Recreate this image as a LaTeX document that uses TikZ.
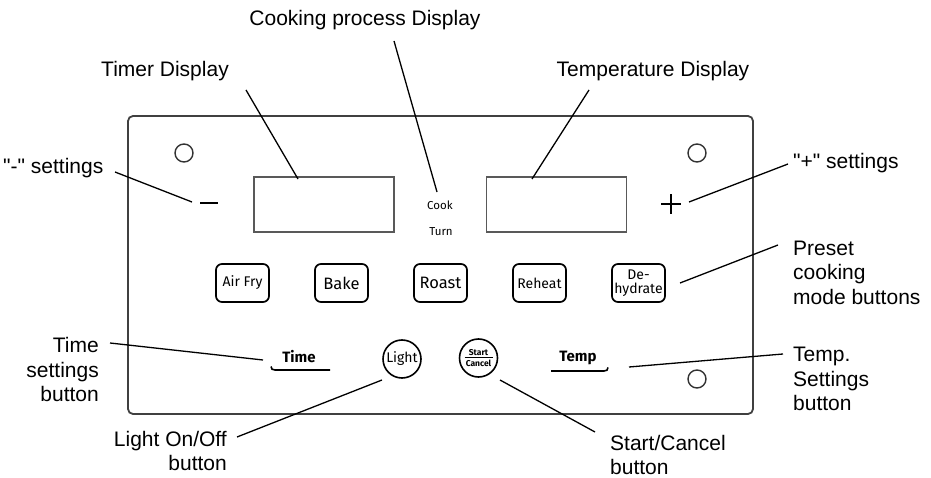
\documentclass[tikz,border=0pt]{standalone}
\usepackage{fontspec}
\setmainfont{Liberation Sans}[Ligatures=TeXOff]
\newfontfamily\btnfont{Fira Sans}
\begin{document}
\begin{tikzpicture}[x=1pt,y=-1pt,
  lbl/.style={inner sep=0pt,font=\fontsize{21}{24.5}\selectfont},
  leader/.style={draw=black,line width=1.3pt},
  panelbox/.style={draw=black!75,line width=1.8pt,rounded corners=5pt,inner sep=0pt},
  hole/.style={draw=black!80,line width=1.4pt,circle,minimum size=18pt,inner sep=0pt},
  disp/.style={draw=black!65,line width=1.4pt,inner sep=0pt,minimum width=140pt,minimum height=55pt},
  btn/.style={draw=black,line width=1.7pt,rounded corners=6pt,inner sep=0pt,minimum width=53pt,minimum height=38pt,align=center},
  rbtn/.style={draw=black,line width=1.6pt,circle,minimum size=38pt,inner sep=0pt},
  small/.style={inner sep=0pt,font=\btnfont\fontsize{11.5}{12}\selectfont}
]
\useasboundingbox (0,0) rectangle (931,478);

% panel
\node[panelbox,minimum width=625pt,minimum height=298pt] (panel) at (440.5,265) {};
\node[hole] (h1) at (184,153) {};
\node[hole] (h2) at (697,153) {};
\node[hole] (h3) at (697,379) {};

% displays
\node[disp] (timer) at (324,204.5) {};
\node[disp] (tempd) at (556.5,204.5) {};
\node[small] (cook) at (440,205) {Cook};
\node[small] (turn) at (441,232) {Turn};

% minus / plus
\node[fill=black,inner sep=0pt,minimum width=18pt,minimum height=2pt] (minus) at (209,203) {};
\node[inner sep=0pt,minimum size=19pt] (plus) at (671,204) {};
\draw[line width=1.8pt] (plus.west) -- (plus.east) (plus.north) -- (plus.south);

% preset buttons
\node[btn,font=\btnfont\fontsize{14}{15}\selectfont] (airfry) at (242.5,283) {Air Fry};
\node[btn,font=\btnfont\fontsize{16.5}{17}\selectfont] (bake) at (341.5,283) {Bake};
\node[btn,font=\btnfont\fontsize{16.5}{17}\selectfont] (roast) at (440.5,283) {Roast};
\node[btn,font=\btnfont\fontsize{14}{15}\selectfont] (reheat) at (539.5,283) {Reheat};
\node[btn,font=\btnfont\fontsize{14}{14.5}\selectfont] (dehyd) at (638.5,283) {De-\\hydrate};

% time / temp
\node[inner sep=0pt,font=\btnfont\bfseries\fontsize{15}{15}\selectfont] (time) at (299,357) {Time};
\draw[line width=1.6pt] (271,366.5) .. controls (271.5,369) and (272,370) .. (275,370) -- (330,370);
\node[inner sep=0pt,font=\btnfont\bfseries\fontsize{15}{15}\selectfont] (temp) at (578,358) {Temp};
\draw[line width=1.6pt] (551,371) -- (604,371) .. controls (607,371) and (607.5,370) .. (608,367.5);

% light / start
\node[rbtn,font=\btnfont\fontsize{14}{14}\selectfont] (light) at (402,359) {Light};
\node[rbtn] (start) at (478.5,358) {};
\node[inner sep=0pt,font=\btnfont\bfseries\fontsize{8.5}{9}\selectfont] (starttxt) at (478.5,352.3) {Start};
\node[inner sep=0pt,font=\btnfont\bfseries\fontsize{8.5}{9}\selectfont] (canceltxt) at (478.5,363.8) {Cancel};
\draw[line width=1pt] (464.5,357.8) -- (492.5,357.8);

% labels
\node[lbl] (Ltimer) at (165,71) {Timer Display};
\node[lbl] (Lcook) at (365,20) {Cooking process Display};
\node[lbl] (Ltemp) at (653,71) {Temperature Display};
\node[lbl,anchor=west] (Lminus) at (3,168) {"-" settings};
\node[lbl,anchor=west] (Lplus) at (793,163) {"+" settings};
\node[lbl,anchor=west,align=left] (Lpreset) at (793,272.5) {Preset\\cooking\\mode buttons};
\node[lbl,anchor=west,align=left] (Ltempset) at (793,379) {Temp.\\Settings\\button};
\node[lbl,anchor=east,align=right] (Ltimeset) at (99,369.5) {Time\\settings\\button};
\node[lbl,anchor=east,align=right] (Llight) at (227,451) {Light On/Off\\button};
\node[lbl,anchor=west,align=left] (Lstart) at (610,455) {Start/Cancel\\button};

% leader end points
\coordinate (a1) at (246,90);  \coordinate (b1) at (298,179);
\coordinate (a2) at (394,41);  \coordinate (b2) at (437,192);
\coordinate (a3) at (589,90);  \coordinate (b3) at (532,179);
\coordinate (a4) at (115,172); \coordinate (b4) at (192,202);
\coordinate (a5) at (788,164); \coordinate (b5) at (689,202);
\coordinate (a6) at (778,245); \coordinate (b6) at (680,283);
\coordinate (a7) at (783,354); \coordinate (b7) at (629,367);
\coordinate (a8) at (110,343); \coordinate (b8) at (263,360);
\coordinate (a9) at (237,437); \coordinate (b9) at (382,380);
\coordinate (a10) at (595,432); \coordinate (b10) at (500,380);

\foreach \i in {1,...,10} {\draw[leader] (a\i) -- (b\i);}
\end{tikzpicture}
\end{document}
